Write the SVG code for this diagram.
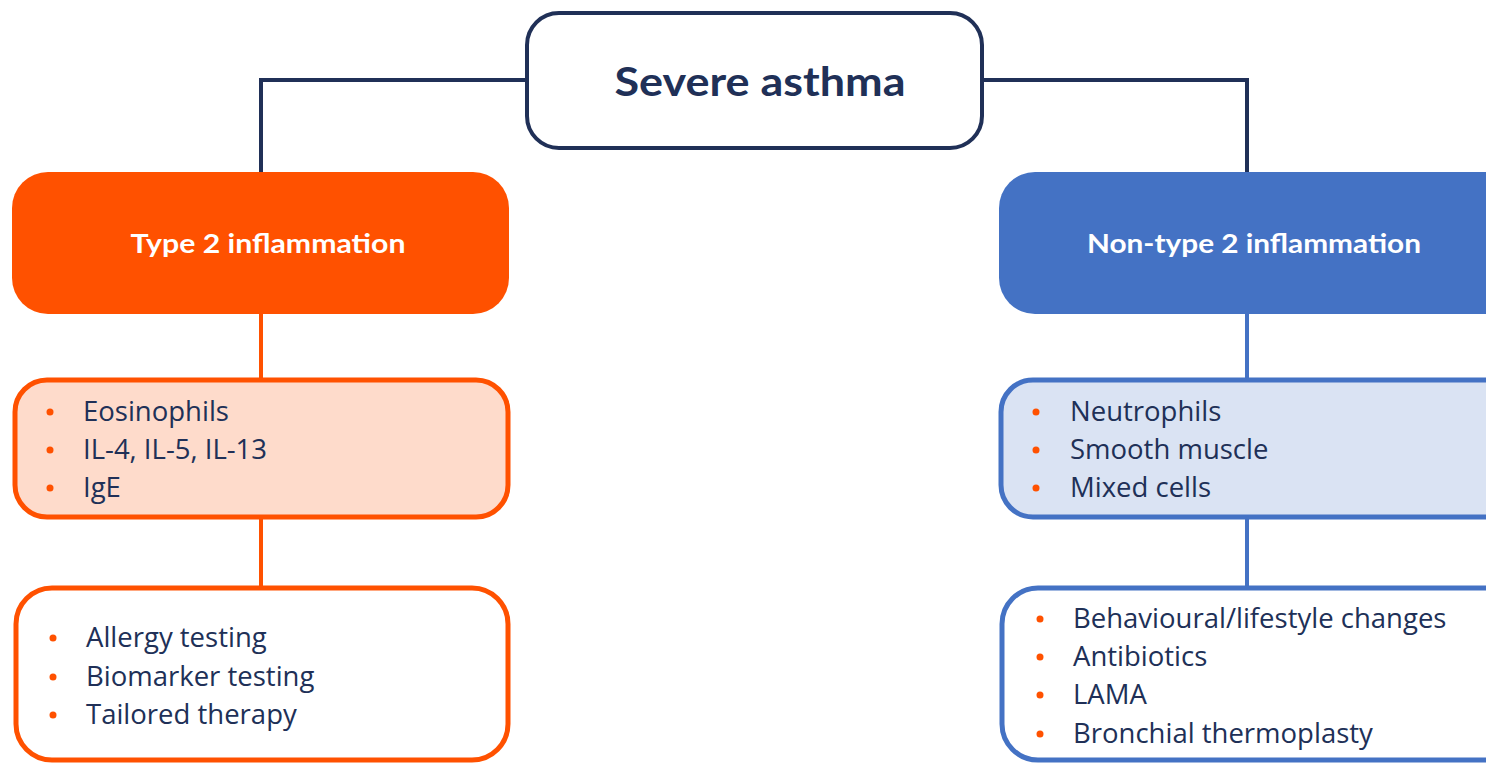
<svg xmlns="http://www.w3.org/2000/svg" width="1486" height="765" viewBox="0 0 1486 765">
<style>
.navy{stroke:#203057;stroke-width:4;fill:none}
.or{stroke:#FF5100;stroke-width:4;fill:none}
.bl{stroke:#4472C4;stroke-width:4;fill:none}
.t{font-family:"Open Sans",Lato,sans-serif;font-size:27.5px;fill:#203057}
.h{font-family:Lato,"Open Sans",sans-serif;font-size:27px;font-weight:bold;fill:#ffffff;text-anchor:middle}
.dot{fill:#FF5100}
</style>
<rect width="1486" height="765" fill="#ffffff"/>
<g id="connectors">
<path class="navy" d="M527 80H261V172"/>
<path class="navy" d="M982 80H1247V172"/>
<path class="or" d="M261 314V380"/>
<path class="or" d="M261 517V588"/>
<path class="bl" d="M1247 314V380"/>
<path class="bl" d="M1247 517V588"/>
</g>
<g id="severe-asthma">
<rect x="527" y="13" width="455" height="135" rx="32" fill="#ffffff" stroke="#203057" stroke-width="4"/>
<text x="760" y="96" font-family="Lato,'Open Sans',sans-serif" font-size="40" font-weight="bold" fill="#203057" text-anchor="middle" textLength="291" lengthAdjust="spacingAndGlyphs">Severe asthma</text>
</g>
<g id="type2">
<rect x="12" y="172" width="497" height="142" rx="36" fill="#FF5100"/>
<text class="h" x="268" y="253" textLength="275" lengthAdjust="spacingAndGlyphs">Type 2 inflammation</text>
</g>
<g id="nontype2">
<rect x="999" y="172" width="530" height="142" rx="36" fill="#4472C4"/>
<text class="h" x="1254" y="253" textLength="334" lengthAdjust="spacingAndGlyphs">Non-type 2 inflammation</text>
</g>
<g id="type2-cells">
<rect x="15" y="380" width="493" height="137" rx="32" fill="#FEDBCB" stroke="#FF5100" stroke-width="5"/>
<circle class="dot" cx="50" cy="412" r="3.5"/>
<circle class="dot" cx="50" cy="450" r="3.5"/>
<circle class="dot" cx="50" cy="488" r="3.5"/>
<text class="t" x="83" y="421">Eosinophils</text>
<text class="t" x="83" y="459">IL-4, IL-5, IL-13</text>
<text class="t" x="83" y="497">IgE</text>
</g>
<g id="nontype2-cells">
<rect x="1001" y="380" width="530" height="137" rx="32" fill="#DAE3F3" stroke="#4472C4" stroke-width="5"/>
<circle class="dot" cx="1036" cy="412" r="3.5"/>
<circle class="dot" cx="1036" cy="450" r="3.5"/>
<circle class="dot" cx="1036" cy="488" r="3.5"/>
<text class="t" x="1070" y="421">Neutrophils</text>
<text class="t" x="1070" y="459">Smooth muscle</text>
<text class="t" x="1070" y="497">Mixed cells</text>
</g>
<g id="type2-actions">
<rect x="16" y="588" width="492" height="172" rx="36" fill="#ffffff" stroke="#FF5100" stroke-width="5"/>
<circle class="dot" cx="53" cy="638" r="3.5"/>
<circle class="dot" cx="53" cy="677" r="3.5"/>
<circle class="dot" cx="53" cy="715" r="3.5"/>
<text class="t" x="86" y="647">Allergy testing</text>
<text class="t" x="86" y="686">Biomarker testing</text>
<text class="t" x="86" y="724">Tailored therapy</text>
</g>
<g id="nontype2-actions">
<rect x="1002" y="588" width="530" height="172" rx="36" fill="#ffffff" stroke="#4472C4" stroke-width="5"/>
<circle class="dot" cx="1040" cy="619" r="3.5"/>
<circle class="dot" cx="1040" cy="657" r="3.5"/>
<circle class="dot" cx="1040" cy="695" r="3.5"/>
<circle class="dot" cx="1040" cy="734" r="3.5"/>
<text class="t" x="1073" y="628">Behavioural/lifestyle changes</text>
<text class="t" x="1073" y="666">Antibiotics</text>
<text class="t" x="1073" y="704">LAMA</text>
<text class="t" x="1073" y="743">Bronchial thermoplasty</text>
</g>
</svg>
